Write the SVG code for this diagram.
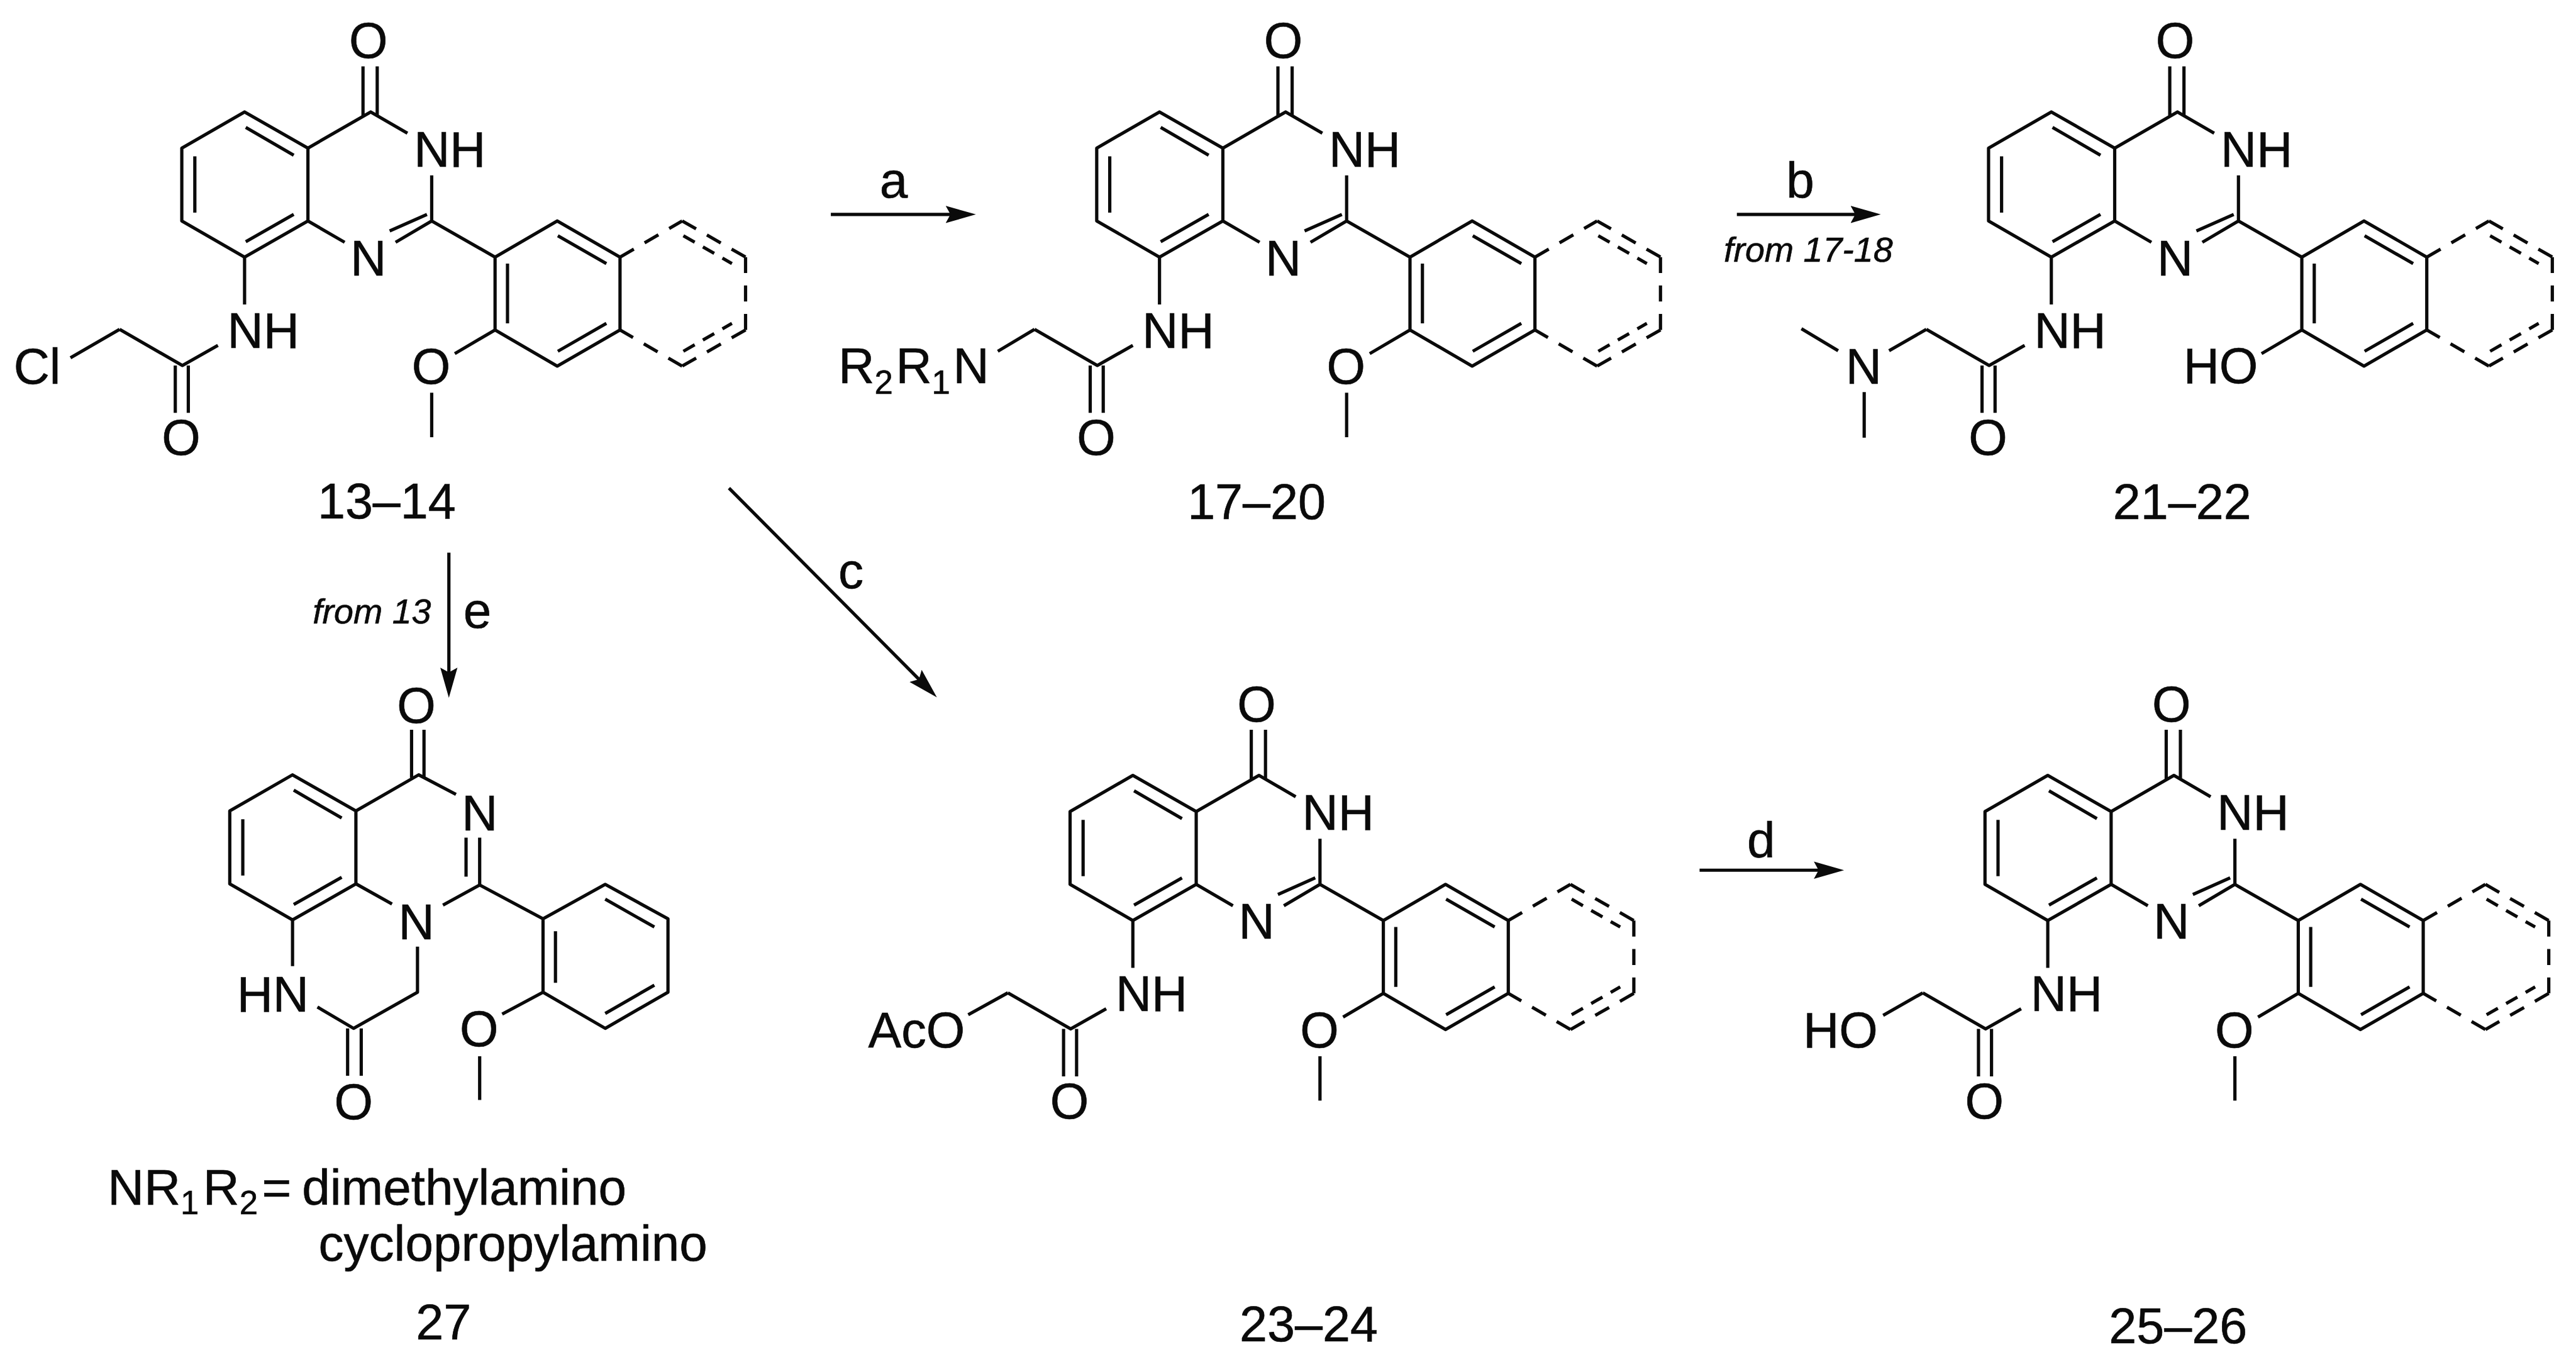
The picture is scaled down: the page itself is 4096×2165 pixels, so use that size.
<svg xmlns="http://www.w3.org/2000/svg" width="4096" height="2165" viewBox="0 0 4096 2165">
<style>
.b{fill:none;stroke:#0a0a0a;stroke-width:5.5;stroke-linejoin:round;stroke-linecap:butt}
.d{fill:none;stroke:#0a0a0a;stroke-width:5.5;stroke-dasharray:27 21}
.i{fill:none;stroke:#0a0a0a;stroke-width:5.5;stroke-dasharray:22 16}
text{font-family:"Liberation Sans",Arial,sans-serif;font-size:84px;fill:#0a0a0a;stroke:#0a0a0a;stroke-width:.7}
.c{text-anchor:middle}
.s{font-size:56px}
.f{font-size:59px;font-style:italic}
.l{font-size:85px}
</style>
<defs>
<marker id="head" markerUnits="userSpaceOnUse" markerWidth="56" markerHeight="32" refX="31" refY="15" orient="auto"><path d="M51 15L0 .5L8 15L0 29.5Z" fill="#0a0a0a"/></marker>
<g id="benzo"><path class="b" d="M520 250L413 189L307 250L307 373L413 434L520 373ZM415 215L496 262M329 264L329 359M415 408L496 362"/></g>
<g id="core">
<use href="#benzo"/>
<path class="b" d="M520 250L626 189L688 225M729 296L729 373L668 409M520 373L582 409M721 362L658 390M613 112L613 195M637 112L637 195M729 373L836 434M836 434L941 373L1047 434L1047 557L941 618L836 557ZM857 445L857 546M942 398L1024 445M942 593L1024 546M413 434L413 514M368 583L308 617L202 556M296 617L296 697M318 617L318 697M768 597L836 557"/>
<path class="d" d="M1047 434L1152 373M1152 373L1259 434M1259 434L1259 557M1259 557L1152 618M1152 618L1047 557"/>
<path class="i" d="M1154 398L1236 445M1154 593L1236 546"/>
</g>
</defs>
<rect width="4096" height="2165" fill="#fff"/>
<g transform="scale(.94161)">
<g id="connectors">
<path class="b" marker-end="url(#head)" d="M1403 362L1628 362"/>
<path class="b" marker-end="url(#head)" d="M2933 362L3156 362"/>
<path class="b" marker-end="url(#head)" d="M1231 824L1568 1163"/>
<path class="b" marker-end="url(#head)" d="M2870 1469L3094 1469"/>
<path class="b" marker-end="url(#head)" d="M758 933L758 1158"/>
<text class="c l" x="1509" y="333">a</text>
<text class="c l" x="3040" y="334">b</text>
<text x="2911" y="442" class="f">from 17-18</text>
<text class="c l" x="1437" y="993">c</text>
<text class="c l" x="2974" y="1448">d</text>
<text class="c l" x="806" y="1060">e</text>
<text x="528" y="1052" class="f">from 13</text>
</g>
<g id="mol-13-14">
<use href="#core"/>
<path class="b" d="M202 556L119 604M729 663L729 738"/>
<text class="c" x="622" y="98">O</text><text x="699" y="281">NH</text><text class="c" x="622" y="465">N</text><text x="384" y="587">NH</text><text x="23" y="648">Cl</text><text class="c" x="306" y="768">O</text><text class="c" x="728" y="648">O</text>
<text class="c" x="653" y="875">13–14</text>
</g>
<g id="mol-17-20" transform="translate(1545,0)">
<use href="#core"/>
<path class="b" d="M202 556L140 593M729 663L729 738"/>
<text class="c" x="622" y="98">O</text><text x="699" y="281">NH</text><text class="c" x="622" y="465">N</text><text x="384" y="587">NH</text><text x="-129" y="647">R<tspan class="s" dy="18">2</tspan><tspan dx="5" dy="-18">R</tspan><tspan class="s" dy="18">1</tspan><tspan dx="5" dy="-18">N</tspan></text><text class="c" x="306" y="768">O</text><text class="c" x="728" y="648">O</text>
<text class="c" x="577" y="876">17–20</text>
</g>
<g id="mol-21-22" transform="translate(3051,0)">
<use href="#core"/>
<path class="b" d="M202 556L139 592M-9 555L53 592M97 662L97 739"/>
<text class="c" x="622" y="98">O</text><text x="699" y="281">NH</text><text class="c" x="622" y="465">N</text><text x="384" y="587">NH</text><text class="c" x="96" y="648">N</text><text x="636" y="647">HO</text><text class="c" x="306" y="768">O</text>
<text class="c" x="634" y="876">21–22</text>
</g>
<g id="mol-23-24" transform="translate(1500,1120)">
<use href="#core"/>
<path class="b" d="M202 556L135 593M729 663L729 738"/>
<text class="c" x="622" y="98">O</text><text x="699" y="281">NH</text><text class="c" x="622" y="465">N</text><text x="384" y="587">NH</text><text x="-34" y="648">AcO</text><text class="c" x="306" y="768">O</text><text class="c" x="728" y="648">O</text>
<text class="c" x="710" y="1144">23–24</text>
</g>
<g id="mol-25-26" transform="translate(3045,1120)">
<use href="#core"/>
<path class="b" d="M202 556L135 594M729 663L729 738"/>
<text class="c" x="622" y="98">O</text><text x="699" y="281">NH</text><text class="c" x="622" y="465">N</text><text x="384" y="587">NH</text><text x="0" y="648">HO</text><text class="c" x="306" y="768">O</text><text class="c" x="728" y="648">O</text>
<text class="c" x="633" y="1147">25–26</text>
</g>
<g id="mol-27">
<use href="#benzo" transform="translate(81,1119)"/>
<path class="b" d="M601 1369L707 1308L770 1341M810 1414L810 1494L917 1551M787 1414L787 1480M810 1494L748 1528M601 1492L662 1526M705 1598L705 1675L597 1736L536 1700M494 1553L494 1631M587 1736L587 1816M610 1736L610 1816M695 1232L695 1313M716 1232L716 1313M917 1551L1022 1493L1128 1551L1128 1675L1022 1736L917 1675ZM938 1572L938 1659M1022 1518L1105 1565M1022 1711L1105 1663M917 1675L848 1712M810 1783L810 1857"/>
<text class="c" x="703" y="1220">O</text><text class="c" x="810" y="1402">N</text><text class="c" x="703" y="1586">N</text><text x="400" y="1708">HN</text><text class="c" x="597" y="1889">O</text><text class="c" x="809" y="1766">O</text>
<text x="182" y="2034" class="l">NR<tspan class="s" dy="16">1</tspan><tspan dx="7" dy="-16">R</tspan><tspan class="s" dy="16">2</tspan><tspan dx="7" dy="-16">=</tspan></text>
<text x="510" y="2034" class="l">dimethylamino</text>
<text x="538" y="2128" class="l">cyclopropylamino</text>
<text class="c" x="749" y="2261">27</text>
</g>
</g>
</svg>
